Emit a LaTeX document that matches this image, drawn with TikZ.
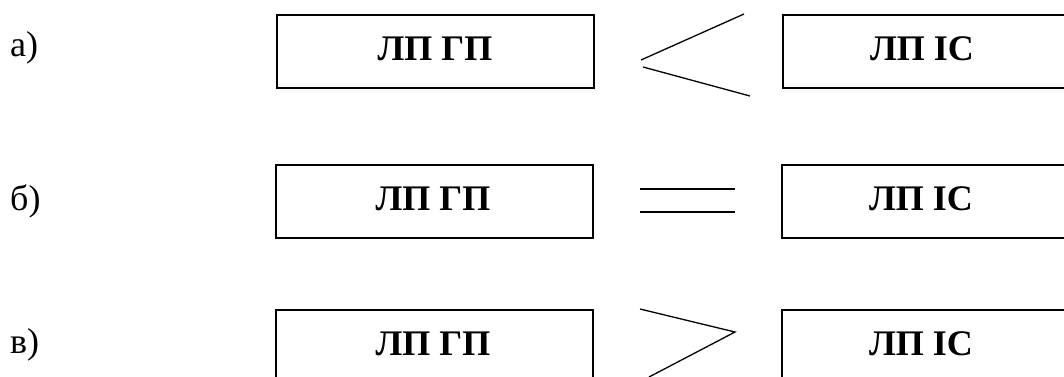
\documentclass[tikz,border=0pt]{standalone}
\usepackage{fontspec}
\setmainfont{Liberation Serif}
\begin{document}
\begin{tikzpicture}[x=1pt,y=-1pt,
  boxst/.style={draw,line width=1.5pt,minimum width=317pt,minimum height=73pt,inner sep=0pt,anchor=north west},
  boxtext/.style={font=\fontsize{36}{40}\selectfont\bfseries,anchor=base,inner sep=0pt},
  lbl/.style={font=\fontsize{36}{40}\selectfont,anchor=base west,inner sep=0pt},
  sign/.style={line width=1.3pt}]
\useasboundingbox (0,0) rectangle (1064,376);
\clip (0,0) rectangle (1064,376);
% row a
\node[lbl] (la) at (10,56) {а)};
\node[boxst] (a1) at (276,14) {};
\node[boxst] (a2) at (782,14) {};
\node[boxtext] (ta1) at (435,60) {ЛП ГП};
\node[boxtext] (ta2) at (922,60) {ЛП ІС};
\draw[sign] (744,14) -- (641,60);
\draw[sign] (643,67) -- (750,96);
% row b
\node[lbl] (lb) at (10,210) {б)};
\node[boxst] (b1) at (275,164) {};
\node[boxst] (b2) at (781,164) {};
\node[boxtext] (tb1) at (433,210) {ЛП ГП};
\node[boxtext] (tb2) at (921,210) {ЛП ІС};
\draw[sign] (640,189) -- (735,189);
\draw[sign] (640,212) -- (735,212);
% row c
\node[lbl] (lc) at (10,353) {в)};
\node[boxst] (c1) at (275,309) {};
\node[boxst] (c2) at (781,309) {};
\node[boxtext] (tc1) at (433,355) {ЛП ГП};
\node[boxtext] (tc2) at (921,355) {ЛП ІС};
\draw[sign] (640,309) -- (735,332) -- (649,377);
\end{tikzpicture}
\end{document}
